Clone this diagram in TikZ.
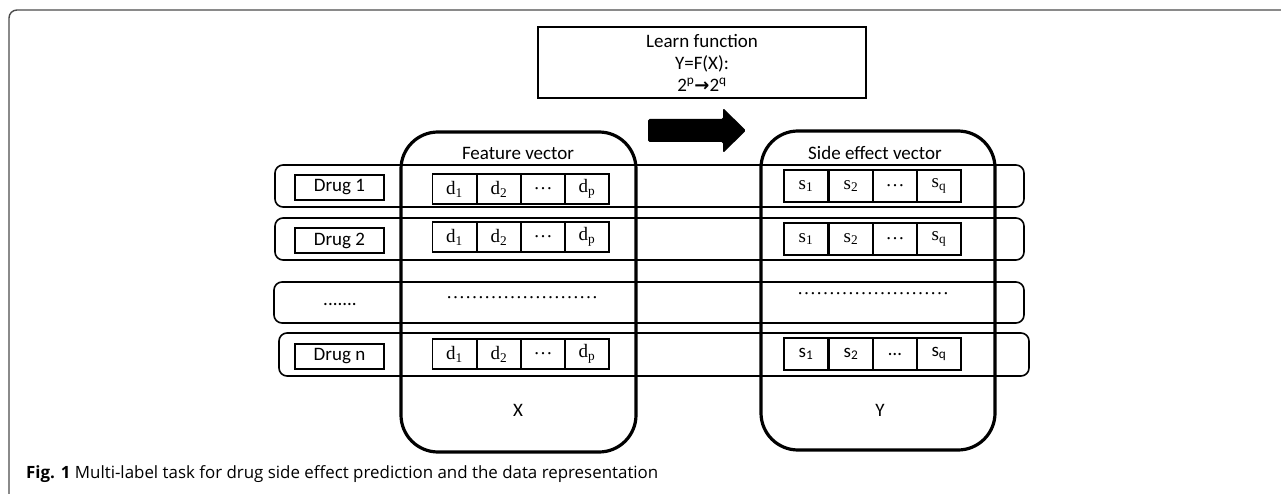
\documentclass[tikz,border=0pt]{standalone}
\usepackage{fontspec}
\setmainfont{Carlito}
\newfontfamily\serifcelda{Liberation Serif}
\newfontfamily\leyenda{Open Sans}
\newfontfamily\flechas{DejaVu Sans}
\tikzset{
	texto/.style={font=\fontsize{19}{22}\selectfont},
	textoserif/.style={font=\serifcelda\fontsize{19}{22}\selectfont},
	caja/.style={draw, line width=3.2pt, rounded corners=37pt, minimum width=#1, inner sep=0pt},
	fila/.style={draw, line width=1.6pt, rounded corners=8pt, inner sep=0pt},
	farmaco/.style={draw, line width=1.8pt, minimum width=89pt, minimum height=25pt, inner sep=0pt, texto},
	celda/.style={draw, line width=1.8pt, minimum width=44pt, minimum height=30pt, inner sep=0pt}
}
\begin{document}
\begin{tikzpicture}[x=1pt, y=-1pt]
		\useasboundingbox (0,0) rectangle (1281,494);
	% Marco
		\draw[black!70, line width=1.4pt, rounded corners=8pt] (9,500) -- (9,10) -- (1290,10);

	% Funcion
		\node[draw, line width=1.8pt, minimum width=328pt, minimum height=71pt, align=center, texto] (funcion) at (702,62.5) {Learn function\\Y=F(X):\\2\textsuperscript{p}{\flechas\fontsize{18}{18}\selectfont\bfseries →}2\textsuperscript{q}};
		\fill[rounded corners=1.5pt] (648,119) -- (723,119) -- (723,108) -- (746,130.5) -- (723,153) -- (723,142) -- (648,142) -- cycle;

	% Cajas grandes
		\node[caja=235pt, minimum height=320pt] (X) at (518.5,292) {};
		\node[caja=234pt, minimum height=319pt] (Y) at (878,290.5) {};
		\node[texto] (tituloX) at (518,153) {Feature vector};
		\node[texto] (tituloY) at (875,153) {Side effect vector};
		\node[texto] (etqX) at (518,410) {X};
		\node[texto] (etqY) at (880,410) {Y};

	% Filas
		\node[fila, minimum width=749pt, minimum height=42pt] (fila1) at (649.5,186) {};
		\node[fila, minimum width=749pt, minimum height=42pt] (fila2) at (649.5,239) {};
		\node[fila, minimum width=750pt, minimum height=41pt] (fila3) at (649,302.5) {};
		\node[fila, minimum width=750pt, minimum height=43pt] (fila4) at (654,354.5) {};

	% Farmacos
		\node[farmaco] (drug1) at (339.5,187.5) {Drug 1};
		\node[farmaco] (drug2) at (339.5,240.5) {Drug 2};
		\node[farmaco] (drugn) at (339.5,356.5) {Drug n};
		\node[texto] (puntos) at (340,304) {.......};
		\node[textoserif] (puntosX) at (522,298) {……………………};
		\node[textoserif] (puntosY) at (873,294) {……………………};

	% Celdas
		\foreach \f/\y in {1/189, 2/237, 4/354}
			\foreach \x/\t [count=\i] in {454.5/{d\textsubscript{1}}, 499/{d\textsubscript{2}}, 543/{…}, 587/{d\textsubscript{p}}}
				\node[celda, textoserif] (d\f\i) at (\x,\y) {\t};
		\foreach \f/\y in {1/186, 2/239}
			\foreach \x/\t [count=\i] in {806/{s\textsubscript{1}}, 851/{s\textsubscript{2}}, 895/{…}, 939/{s\textsubscript{q}}}
				\node[celda, minimum height=32pt, textoserif] (s\f\i) at (\x,\y) {\t};
		\foreach \x/\t [count=\i] in {806/{s\textsubscript{1}}, 851/{s\textsubscript{2}}, 895/{…}, 939/{s\textsubscript{q}}}
			\node[celda, minimum height=32pt, texto] (s4\i) at (\x,354) {\t};

	% Pie
		\node[anchor=base west, inner sep=0pt, font=\leyenda\fontsize{16.9}{20}\selectfont] (pie) at (26,478) {\textbf{Fig. 1} Multi-label task for drug side effect prediction and the data representation};
\end{tikzpicture}
\end{document}
